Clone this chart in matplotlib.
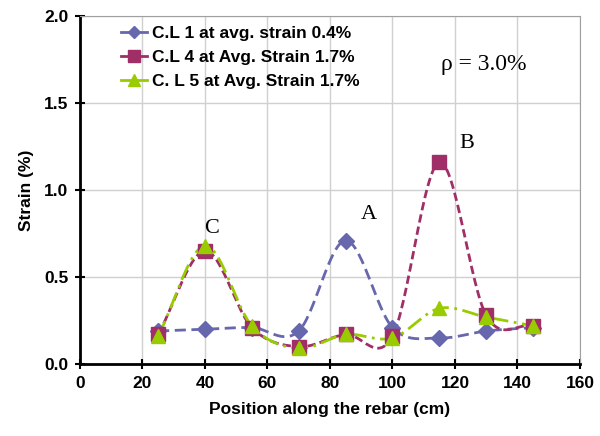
import numpy as np
import matplotlib.pyplot as plt
from matplotlib.lines import Line2D

plt.rcParams['font.family'] = ['Liberation Sans', 'DejaVu Sans']

position = [25, 40, 55, 70, 85, 100, 115, 130, 145]
cl1 = [0.19, 0.20, 0.21, 0.19, 0.71, 0.21, 0.15, 0.19, 0.21]
cl4 = [0.17, 0.65, 0.21, 0.10, 0.17, 0.16, 1.16, 0.28, 0.22]
cl5 = [0.16, 0.68, 0.22, 0.09, 0.17, 0.15, 0.32, 0.27, 0.22]
labels = ["C.L 1 at avg. strain 0.4%",
          "C.L 4 at Avg. Strain 1.7%",
          "C. L 5 at Avg. Strain 1.7%"]
annotations = [("A", 92.5, 0.86), ("B", 123.8, 1.27), ("C", 42.2, 0.78)]


def smooth(x, y, n=30):
    # Excel-style smoothed line (Catmull-Rom through the points)
    x = np.asarray(x, float); y = np.asarray(y, float)
    px = np.concatenate([[2 * x[0] - x[1]], x, [2 * x[-1] - x[-2]]])
    py = np.concatenate([[2 * y[0] - y[1]], y, [2 * y[-1] - y[-2]]])
    xs, ys = [], []
    t = np.linspace(0, 1, n)
    for i in range(1, len(px) - 2):
        for p, out in ((px, xs), (py, ys)):
            p0, p1, p2, p3 = p[i - 1], p[i], p[i + 1], p[i + 2]
            out.extend(0.5 * (2 * p1 + (-p0 + p2) * t
                              + (2 * p0 - 5 * p1 + 4 * p2 - p3) * t ** 2
                              + (-p0 + 3 * p1 - 3 * p2 + p3) * t ** 3))
    return xs, ys


fig = plt.figure(figsize=(6, 4.36), dpi=100)
ax = fig.add_axes([0.1333, 0.165, 0.8333, 0.798])

styles = [
    dict(color="#6767AD", ls=(0, (4, 2)), marker="D", ms=8),
    dict(color="#A02F68", ls=(0, (3, 1.5)), marker="s", ms=10),
    dict(color="#99CC00", ls=(0, (6, 2, 1, 2)), marker="^", ms=10),
]
handles = []
for y, st, lab in zip([cl1, cl4, cl5], styles, labels):
    sx, sy = smooth(position, y)
    ax.plot(sx, sy, color=st["color"], ls=st["ls"], lw=2, zorder=2)
    ax.plot(position, y, ls="none", marker=st["marker"], ms=st["ms"],
            color=st["color"], zorder=3)
    handles.append(Line2D([], [], color=st["color"], ls="-", lw=2,
                          marker=st["marker"], ms=st["ms"] * 0.8))

for txt, x, y in annotations:
    ax.text(x, y, txt, fontsize=16, family="Liberation Serif",
            ha="center", va="center")
ax.text(115.5, 1.72, "ρ = 3.0%", fontsize=17, family="Liberation Serif",
        ha="left", va="center")

ax.set_xlim(0, 160)
ax.set_ylim(0, 2.0)
ax.set_xticks(np.arange(0, 161, 20))
ax.set_yticks([0, 0.5, 1.0, 1.5, 2.0])
ax.set_yticklabels(["0.0", "0.5", "1.0", "1.5", "2.0"])
ax.grid(True, color="#d0d0d0", lw=1)
ax.set_axisbelow(True)
for s in ["top", "right"]:
    ax.spines[s].set_color("#a0a0a0")
for s in ["left", "bottom"]:
    ax.spines[s].set_linewidth(2)
ax.tick_params(direction="inout", length=7, width=1.5, labelsize=12.5, pad=5)
for lbl in ax.get_xticklabels() + ax.get_yticklabels():
    lbl.set_fontweight("bold")
ax.set_xlabel("Position along the rebar (cm)", fontsize=12.5, fontweight="bold",
              labelpad=8)
ax.set_ylabel("Strain (%)", fontsize=12.5, fontweight="bold", labelpad=7)

leg = ax.legend(handles, labels, loc="upper left", bbox_to_anchor=(0.05, 1.017),
                frameon=False, prop=dict(size=12.5, weight="bold"),
                handlelength=1.5, handletextpad=0.3, labelspacing=0.5)

fig.savefig("out.png", dpi=100)
